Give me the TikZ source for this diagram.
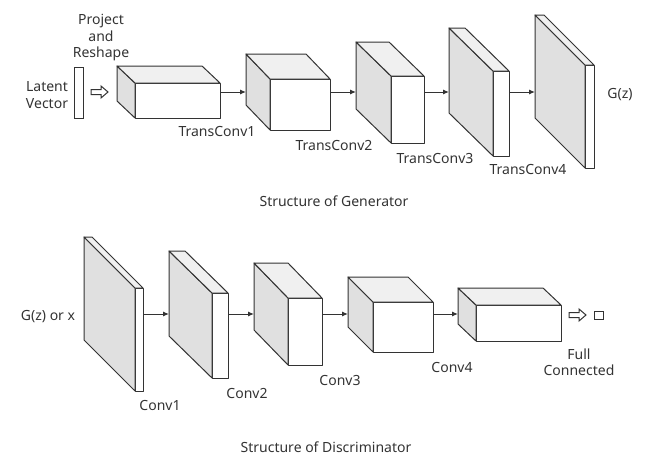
\documentclass[tikz,border=0pt]{standalone}
\usepackage{fontspec}
\setmainfont{Noto Sans}
\usetikzlibrary{arrows.meta}
\definecolor{ink}{HTML}{333333}
\definecolor{sideg}{HTML}{E0E0E0}
\definecolor{topg}{HTML}{F0F0F0}
\tikzset{
  face/.style={draw=ink, line width=1pt, line join=round},
  frontface/.style={face, fill=white, inner sep=0pt, outer sep=0pt, anchor=north west},
  conn/.style={draw=ink, line width=1pt, -{Latex[length=6pt,width=5pt]}},
  lbl/.style={text=ink, font=\fontsize{14}{16.5}\selectfont, align=center, inner sep=0pt},
  hollow/.style={draw=ink, line width=1pt, fill=white, line join=miter},
}
% name, x-left, y-top, x-right, y-bottom, dx, dy (pixel coordinates)
\newcommand\cuboid[7]{%
  \node[frontface, minimum width={(#4-#2)*1pt}, minimum height={(#5-#3)*1pt}] (#1) at (#2,#3) {};
  \draw[face, fill=sideg] (#1.north west) -- ++(-#6,-#7) -- ++(0,#5-#3) -- (#1.south west) -- cycle;
  \draw[face, fill=topg] (#1.north west) -- ++(-#6,-#7) -- ++(#4-#2,0) -- (#1.north east) -- cycle;
}
\newcommand\hollowarrow[1]{%
  \draw[hollow] (#1) ++(0,-2.5) -- ++(10,0) -- ++(0,-3.5) -- ++(7,6) -- ++(-7,6) -- ++(0,-3.5) -- ++(-10,0) -- cycle;
}
\begin{document}
\begin{tikzpicture}[x=1pt,y=-1pt]
\useasboundingbox (0,0) rectangle (645,455);

% ---------- Generator ----------
\node[draw=ink, line width=1pt, fill=white, minimum width=9pt, minimum height=51pt, inner sep=0pt, anchor=north west] (lv) at (74,67) {};
\node[lbl] (lvt) at (47,95) {Latent\\Vector};
\node[lbl] (prt) at (101,38) {Project\\and\\Reshape};
\coordinate (ha1) at (91,92);
\hollowarrow{ha1}

\cuboid{g1}{135}{83}{220}{118}{18}{17}
\cuboid{g2}{270}{79}{330}{130}{24}{25}
\cuboid{g3}{391}{76}{424}{143}{35}{34}
\cuboid{g4}{493}{71}{509}{156}{44}{43}
\cuboid{g5}{585}{65}{594}{168}{50}{50}

\coordinate (g2in) at (246,92);
\coordinate (g3in) at (356,92);
\coordinate (g4in) at (449,92);
\coordinate (g5in) at (535,92);
\draw[conn] (g1.east |- g2in) -- (g2in);
\draw[conn] (g2.east |- g3in) -- (g3in);
\draw[conn] (g3.east |- g4in) -- (g4in);
\draw[conn] (g4.east |- g5in) -- (g5in);

\node[lbl] (t1) at (217,132) {TransConv1};
\node[lbl] (t2) at (334,145) {TransConv2};
\node[lbl] (t3) at (435,158) {TransConv3};
\node[lbl] (t4) at (528,170) {TransConv4};
\node[lbl] (gz) at (620,95) {G(z)};
\node[lbl] (sg) at (334,201) {Structure of Generator};

% ---------- Discriminator ----------
\node[lbl] (gx) at (48,317) {G(z) or x};
\cuboid{d1}{135}{288}{143}{391}{51}{51}
\cuboid{d2}{212}{293}{228}{378}{43}{42}
\cuboid{d3}{288}{298}{322}{365}{34}{35}
\cuboid{d4}{373}{302}{433}{352}{25}{25}
\cuboid{d5}{476}{305}{561}{341}{18}{17}

\coordinate (d2in) at (169,314);
\coordinate (d3in) at (254,314);
\coordinate (d4in) at (348,314);
\coordinate (d5in) at (458,314);
\draw[conn] (d1.east |- d2in) -- (d2in);
\draw[conn] (d2.east |- d3in) -- (d3in);
\draw[conn] (d3.east |- d4in) -- (d4in);
\draw[conn] (d4.east |- d5in) -- (d5in);

\coordinate (ha2) at (569,315);
\hollowarrow{ha2}
\node[draw=ink, line width=1pt, fill=white, minimum width=9pt, minimum height=8pt, inner sep=0pt] (fc) at (598.5,315) {};

\node[lbl] (c1) at (160,405) {Conv1};
\node[lbl] (c2) at (247,393) {Conv2};
\node[lbl] (c3) at (340,380) {Conv3};
\node[lbl] (c4) at (452,367) {Conv4};
\node[lbl] (fct) at (579,362) {Full\\Connected};
\node[lbl] (sd) at (326,447) {Structure of Discriminator};
\end{tikzpicture}
\end{document}
